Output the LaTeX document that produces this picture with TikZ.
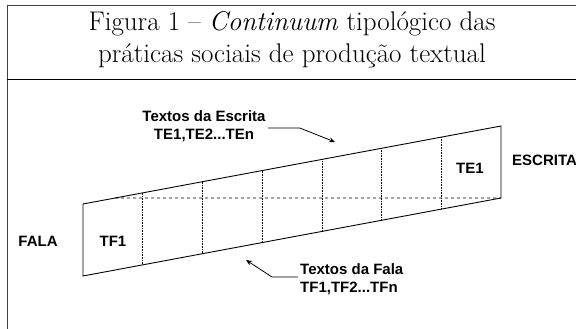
\documentclass[tikz,border=0pt]{standalone}
\usepackage{fontspec}
\newfontfamily\labelfont{Liberation Sans}
\usetikzlibrary{calc,arrows.meta,positioning}

\begin{document}
\begin{tikzpicture}[x=1pt,y=-1pt,
		lbl/.style={font=\labelfont\fontsize{15}{18}\selectfont\bfseries, inner sep=0pt, align=center},
		divider/.style={densely dotted, line width=0.6pt},
		pointer/.style={-{Stealth[length=6pt,width=5pt]}, line width=0.8pt}
			]
\useasboundingbox (0,0) rectangle (576,329);

% frame and title
\draw[line width=1pt, black!75] (7,329) -- (7,6) -- (576,6);
\draw[line width=0.8pt] (7,79) -- (576,79);
\node[font=\fontsize{27}{32}\selectfont, align=center, anchor=north, inner sep=0pt] (title) at (292,11)
	{Figura 1 -- \textit{Continuum} tipológico das\\práticas sociais de produção textual};

% continuum
\coordinate (bl) at (83,276);
\coordinate (tl) at (83,204);
\coordinate (tr) at (501,126);
\coordinate (br) at (501,198);
\draw[line width=0.9pt] (bl) -- (tl) -- (tr) -- (br) -- cycle;
\foreach \k in {1,...,6}
	\draw[divider] ($(tl)!\k/7!(tr)$) -- ($(bl)!\k/7!(br)$);
\draw[dashed, line width=0.6pt] ($(tl)!6/78!(tr)$) -- (br);

\node[lbl] (fala) at (38,241) {FALA};
\node[lbl, anchor=west] (escrita) at (512,160) {ESCRITA};
\node[lbl] (tf1) at (113,241) {TF1};
\node[lbl] (te1) at (470,168) {TE1};

% pointers
\node[lbl] (escritaTexts) at (204,126) {Textos da Escrita\\TE1,TE2...TEn};
\node[lbl, align=left, anchor=west] (falaTexts) at (300,279) {Textos da Fala\\TF1,TF2...TFn};
\coordinate (escritaTip) at (335,142);
\coordinate (falaTip) at (246,260);
\draw[pointer] ($(escritaTexts.east)+(2,2)$) -- ++(32,0) -- (escritaTip);
\draw[pointer] ($(falaTexts.west)+(-2,-2)$) -- ++(-26,0) -- (falaTip);
\end{tikzpicture}
\end{document}
